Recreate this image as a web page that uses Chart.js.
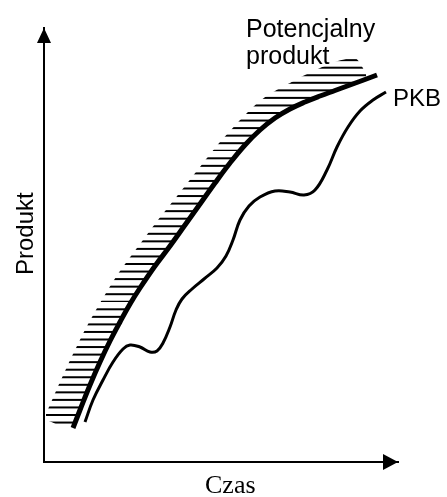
<!DOCTYPE html>
<html lang="pl">
<head>
<meta charset="utf-8">
<title>Produkt potencjalny i PKB</title>
<script src="https://cdn.jsdelivr.net/npm/chart.js@4.4.1/dist/chart.umd.min.js"></script>
<style>
    html, body { margin: 0; padding: 0; background: #fff; }
    canvas { display: block; }
</style>
</head>
<body>
<canvas id="outputChart" width="447" height="497"></canvas>
<script>
// ======================================
// DATA (arbitrary units: time -> right, output -> up)
// ======================================

const timeRange = [0, 354];
const outputRange = [0, 434];

// Potencjalny produkt (thick curve)
const potentialTime = [29, 36, 46, 56, 66, 76, 86, 96, 111, 126, 141, 156, 171, 186, 201, 216, 231, 246, 261, 276, 291, 306, 321, 333];
const potentialOutput = [34, 52, 77, 100, 121, 140, 158, 174, 196, 216, 237, 258, 279, 299, 317, 332, 344, 353, 360, 366, 371.5, 377, 382.5, 387];

// PKB (thin, wavy curve)
const gdpTime = [41, 49, 59, 69, 79, 86, 96, 106, 113, 119, 126, 132, 138, 148, 160, 173, 182, 189, 196, 205, 216, 231, 246, 260, 271, 283, 293, 304, 316, 329, 342];
const gdpOutput = [40, 62, 82, 100, 113, 117, 115, 110, 111, 119, 135, 152, 163, 173, 183, 194, 206, 222, 242, 256, 265, 271, 270, 267, 272, 292, 315, 335, 351, 362, 370];

// Upper edge of the hatched band above the potential output
const hatchTopTime = [2, 12, 22, 32, 42, 52, 62, 72, 84, 96, 111, 126, 141, 156, 171, 186, 201, 216, 231, 246, 261, 276, 291, 302, 311, 317, 322];
const hatchTopOutput = [48, 71, 93, 114, 134, 152, 169, 185, 202, 218, 238, 257, 276, 295, 314, 331, 347, 361, 371, 379, 387, 394, 400, 403, 404, 397, 388];

// Lower-left corner where the band closes on the axis
const hatchFloorTime = [2];
const hatchFloorOutput = [42];

// Texts
const xTitle = 'Czas';
const yTitle = 'Produkt';
const potentialLabel = ['Potencjalny', 'produkt'];
const gdpLabel = 'PKB';

// ======================================
// HELPERS
// ======================================

/**
 * Zips two arrays into {x, y} points
 */
function toPoints(xs, ys) {
    return xs.map((x, i) => ({ x: x, y: ys[i] }));
}

/**
 * Horizontal hatch pattern used to fill the band
 */
function makeHatch(step, offset) {
    const period = Math.round(step * 20);
    const c = document.createElement('canvas');
    c.width = 8;
    c.height = period;
    const g = c.getContext('2d');
    g.fillStyle = '#000';
    for (let k = 0; k < 20; k++) {
        g.fillRect(0, offset + k * step - 1, 8, 2);
    }
    return g.createPattern(c, 'repeat');
}

const SANS = '"Liberation Sans", Arial, sans-serif';
const SERIF = '"Liberation Serif", "Times New Roman", serif';

// ======================================
// PLUGIN: arrowheads + labels
// ======================================
const sketchPlugin = {
    id: 'sketch',
    afterDraw(chart) {
        const { ctx, scales } = chart;
        const x0 = scales.x.getPixelForValue(timeRange[0]);
        const xEnd = scales.x.getPixelForValue(timeRange[1]);
        const y0 = scales.y.getPixelForValue(outputRange[0]);
        const yEnd = scales.y.getPixelForValue(outputRange[1]);

        ctx.save();
        ctx.fillStyle = '#000';

        // arrowhead on the vertical axis
        ctx.beginPath();
        ctx.moveTo(x0, yEnd);
        ctx.lineTo(x0 - 7, yEnd + 15);
        ctx.lineTo(x0 + 7, yEnd + 15);
        ctx.closePath();
        ctx.fill();

        // arrowhead on the horizontal axis
        ctx.beginPath();
        ctx.moveTo(xEnd, y0);
        ctx.lineTo(xEnd - 15, y0 - 8);
        ctx.lineTo(xEnd - 15, y0 + 8);
        ctx.closePath();
        ctx.fill();

        ctx.textAlign = 'left';
        ctx.textBaseline = 'alphabetic';

        // curve labels, placed in data units
        ctx.font = '25px ' + SANS;
        const px = scales.x.getPixelForValue(202);
        ctx.fillText(potentialLabel[0], px, scales.y.getPixelForValue(425));
        ctx.fillText(potentialLabel[1], px, scales.y.getPixelForValue(398));

        ctx.font = '24px ' + SANS;
        ctx.fillText(gdpLabel, scales.x.getPixelForValue(349), scales.y.getPixelForValue(356));

        // axis titles
        ctx.font = '26px ' + SERIF;
        ctx.fillText(xTitle, 205, 493);

        ctx.font = '24px ' + SANS;
        ctx.translate(33, 275);
        ctx.rotate(-Math.PI / 2);
        ctx.fillText(yTitle, 0, 0);

        ctx.restore();
    }
};

// ======================================
// CHART
// ======================================
document.addEventListener('DOMContentLoaded', function () {
    const canvas = document.getElementById('outputChart');
    const hatch = makeHatch(7.55, 7.3);

    const lineBase = {
        pointRadius: 0,
        tension: 0.4,
        borderColor: '#000',
        borderJoinStyle: 'round',
        fill: false
    };

    new Chart(canvas.getContext('2d'), {
        type: 'line',
        data: {
            datasets: [
                { ...lineBase, label: 'Potencjalny produkt', data: toPoints(potentialTime, potentialOutput), borderWidth: 5, borderCapStyle: 'butt' },
                { ...lineBase, label: 'PKB', data: toPoints(gdpTime, gdpOutput), borderWidth: 3 },
                { ...lineBase, label: 'hatch', data: toPoints(hatchTopTime, hatchTopOutput), borderWidth: 0, backgroundColor: hatch, fill: 3 },
                { ...lineBase, label: 'floor', data: toPoints(hatchFloorTime.concat(potentialTime), hatchFloorOutput.concat(potentialOutput)), borderWidth: 0 }
            ]
        },
        options: {
            responsive: false,
            animation: false,
            events: [],
            layout: { padding: { top: 28, right: 49, left: 0, bottom: 0 } },
            scales: {
                x: {
                    type: 'linear',
                    min: timeRange[0],
                    max: timeRange[1],
                    grid: { display: false, drawTicks: false },
                    ticks: { display: false },
                    border: { display: true, color: '#000', width: 2 },
                    afterFit: scale => { scale.height = 35; }
                },
                y: {
                    type: 'linear',
                    min: outputRange[0],
                    max: outputRange[1],
                    grid: { display: false, drawTicks: false },
                    ticks: { display: false },
                    border: { display: true, color: '#000', width: 2 },
                    afterFit: scale => { scale.width = 44; }
                }
            },
            plugins: {
                legend: { display: false },
                tooltip: { enabled: false },
                title: { display: false }
            }
        },
        plugins: [sketchPlugin]
    });
});
</script>
</body>
</html>
